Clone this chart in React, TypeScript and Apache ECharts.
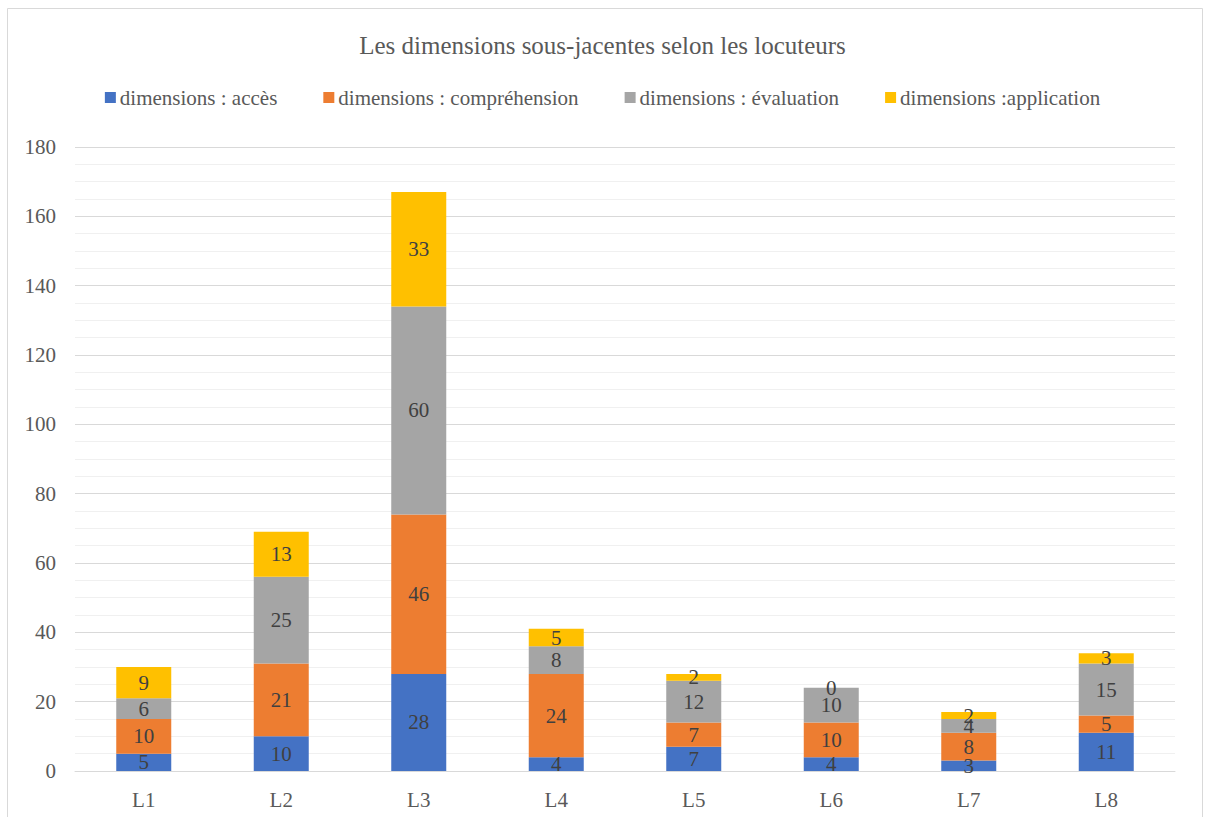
import React, { useEffect, useRef } from "react";
import * as echarts from "echarts";

const categories = ["L1", "L2", "L3", "L4", "L5", "L6", "L7", "L8"];
const seriesNames = [
  "dimensions : accès",
  "dimensions : compréhension",
  "dimensions : évaluation",
  "dimensions :application",
];
const acces = [5, 10, 28, 4, 7, 4, 3, 11];
const comprehension = [10, 21, 46, 24, 7, 10, 8, 5];
const evaluation = [6, 25, 60, 8, 12, 10, 4, 15];
const application = [9, 13, 33, 5, 2, 0, 2, 3];
const colors = ["#4472C4", "#ED7D31", "#A5A5A5", "#FFC000"];
const yMin = 0;
const yMax = 180;
const yInterval = 20;

const FONT = "'Liberation Serif', 'Times New Roman', serif";

export default function App() {
  const ref = useRef<HTMLDivElement>(null);
  useEffect(() => {
    if (!ref.current) return;
    const chart = echarts.init(ref.current, undefined, { renderer: "svg" });
    const values = [acces, comprehension, evaluation, application];
    chart.setOption({
      animation: false,
      textStyle: { fontFamily: FONT },
      title: {
        text: "Les dimensions sous-jacentes selon les locuteurs",
        left: "center",
        top: 28,
        textStyle: { fontFamily: FONT, fontSize: 25, fontWeight: "normal", color: "#595959" },
      },
      legend: {
        top: 82,
        left: "center",
        itemWidth: 11,
        itemHeight: 11,
        itemGap: 46,
        icon: "rect",
        textStyle: { fontFamily: FONT, fontSize: 21, color: "#595959", padding: [0, 0, 0, -1] },
        data: seriesNames,
      },
      graphic: [
        {
          type: "rect",
          shape: { x: 7.5, y: 8.5, width: 1195, height: 830 },
          style: { fill: "none", stroke: "#d9d9d9", lineWidth: 1 },
        },
      ],
      grid: { left: 75, right: 30, top: 147, bottom: 46, containLabel: false },
      xAxis: {
        type: "category",
        data: categories,
        axisLine: { lineStyle: { color: "#d9d9d9", width: 1 } },
        axisTick: { show: false },
        axisLabel: { fontFamily: FONT, fontSize: 21, color: "#595959", margin: 18 },
      },
      yAxis: {
        type: "value",
        min: yMin,
        max: yMax,
        interval: yInterval,
        axisLine: { show: false },
        axisTick: { show: false },
        axisLabel: { fontFamily: FONT, fontSize: 21, color: "#595959", margin: 19 },
        splitLine: { lineStyle: { color: "#d9d9d9", width: 1 } },
        minorTick: { show: false, splitNumber: 4 },
        minorSplitLine: { show: true, lineStyle: { color: "#f0f0f0", width: 1 } },
      },
      series: seriesNames.map((name, i) => ({
        name,
        type: "bar",
        stack: "total",
        barWidth: "40%",
        data: values[i],
        itemStyle: { color: colors[i] },
        label: {
          show: true,
          position: "inside",
          fontFamily: FONT,
          fontSize: 21,
          color: "#404040",
        },
      })),
    });
    return () => chart.dispose();
  }, []);
  return (
    <div
      ref={ref}
      style={{ position: "absolute", left: 0, top: 0, width: 1205, height: 817, background: "#fff" }}
    />
  );
}
